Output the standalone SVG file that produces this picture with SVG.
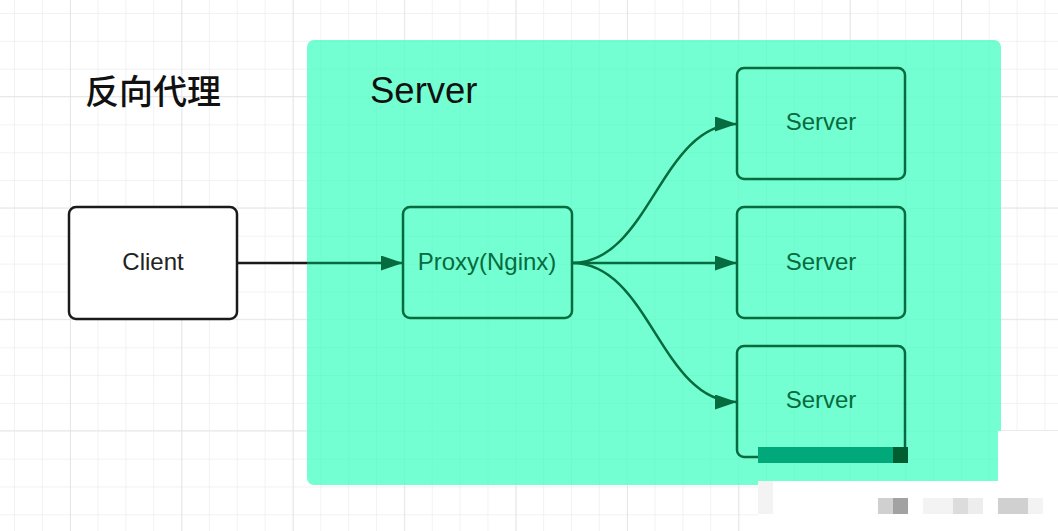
<svg xmlns="http://www.w3.org/2000/svg" width="1058" height="531" viewBox="0 0 1058 531">
  <defs>
    <pattern id="minor" patternUnits="userSpaceOnUse" x="14" y="13" width="27.85" height="27.85">
      <path d="M0,0 V27.85 M0,0 H27.85" fill="none" stroke="#eeeeee" stroke-width="1.5"/>
    </pattern>
    <pattern id="major" patternUnits="userSpaceOnUse" x="70" y="96" width="111.4" height="111.4">
      <path d="M0,0 V111.4 M0,0 H111.4" fill="none" stroke="#e2e2e2" stroke-width="1.5"/>
    </pattern>
    <pattern id="minorG" patternUnits="userSpaceOnUse" x="14" y="13" width="27.85" height="27.85">
      <path d="M0,0 V27.85 M0,0 H27.85" fill="none" stroke="#0a6040" stroke-opacity="0.05" stroke-width="1.5"/>
    </pattern>
    <marker id="arrG" markerUnits="userSpaceOnUse" markerWidth="24" markerHeight="16" refX="22" refY="7.5" orient="auto">
      <path d="M0,0 L22,7.5 L0,15 Z" fill="#066B3F"/>
    </marker>
    <linearGradient id="mix" gradientUnits="userSpaceOnUse" x1="237" y1="0" x2="403" y2="0">
      <stop offset="0.4217" stop-color="#1a1a1a"/>
      <stop offset="0.4217" stop-color="#066B3F"/>
    </linearGradient>
  </defs>
  <style>
    .node { stroke-width: 2.5; }
    .dark { fill: #ffffff; stroke: #1a1a1a; }
    .grn { fill: none; stroke: #066B3F; }
    .lbl { font-family: "Liberation Sans", Arial, sans-serif; font-size: 24px; text-anchor: middle; }
    .lblD { fill: #222222; }
    .lblG { fill: #066B3F; }
    .conn { fill: none; stroke-width: 2.5; }
  </style>

  <rect width="1058" height="531" fill="#ffffff"/>
  <rect width="1058" height="531" fill="url(#minor)"/>
  <rect width="1058" height="531" fill="url(#major)"/>

  <g id="container">
    <rect x="307" y="40" width="694" height="445" rx="7" fill="#74FFD2"/>
    <rect x="307" y="40" width="694" height="445" rx="7" fill="url(#minorG)"/>
    <text x="370" y="103" font-family="Liberation Sans, Arial, sans-serif" font-size="36.5" fill="#111111">Server</text>
  </g>

  <g id="title">
    <text x="85" y="104" font-family="'Noto Sans CJK SC', 'Noto Sans', sans-serif" font-size="34" font-weight="500" fill="#111111">反向代理</text>
  </g>

  <g id="connectors">
    <path class="conn" d="M237,263 H403" stroke="url(#mix)" marker-end="url(#arrG)"/>
    <path class="conn" d="M572,263 C650,263 660,124 737,124" stroke="#066B3F" marker-end="url(#arrG)"/>
    <path class="conn" d="M572,263 H737" stroke="#066B3F" marker-end="url(#arrG)"/>
    <path class="conn" d="M572,263 C650,263 660,402 737,402" stroke="#066B3F" marker-end="url(#arrG)"/>
  </g>

  <g id="client">
    <rect class="node dark" x="69" y="207" width="168" height="112" rx="7"/>
    <text class="lbl lblD" x="153" y="270">Client</text>
  </g>

  <g id="proxy">
    <rect class="node grn" x="403" y="207" width="169" height="111" rx="7"/>
    <text class="lbl lblG" x="487" y="270">Proxy(Nginx)</text>
  </g>

  <g id="server1">
    <rect class="node grn" x="737" y="68" width="168" height="111" rx="7"/>
    <text class="lbl lblG" x="821" y="130">Server</text>
  </g>

  <g id="server2">
    <rect class="node grn" x="737" y="207" width="168" height="111" rx="7"/>
    <text class="lbl lblG" x="821" y="270">Server</text>
  </g>

  <g id="server3">
    <rect class="node grn" x="737" y="346" width="168" height="111" rx="7"/>
    <text class="lbl lblG" x="821" y="408">Server</text>
  </g>

  <g id="watermark">
    <rect x="998" y="431" width="60" height="100" fill="#ffffff"/>
    <rect x="758" y="481" width="300" height="50" fill="#ffffff"/>
    <rect x="758" y="447" width="135" height="16" fill="#00A87A"/>
    <rect x="893" y="447" width="15" height="16" fill="#005E30"/>
    <rect x="758" y="481" width="15" height="33" fill="#f3f3f3"/>
    <rect x="878" y="498" width="15" height="16" fill="#d0d0d0"/>
    <rect x="893" y="498" width="15" height="16" fill="#a2a2a2"/>
    <rect x="923" y="498" width="30" height="16" fill="#f3f3f3"/>
    <rect x="953" y="498" width="15" height="16" fill="#dcdcdc"/>
    <rect x="968" y="498" width="15" height="16" fill="#ededed"/>
    <rect x="998" y="498" width="30" height="16" fill="#d0d0d0"/>
    <rect x="1028" y="498" width="15" height="16" fill="#f3f3f3"/>
  </g>
</svg>
